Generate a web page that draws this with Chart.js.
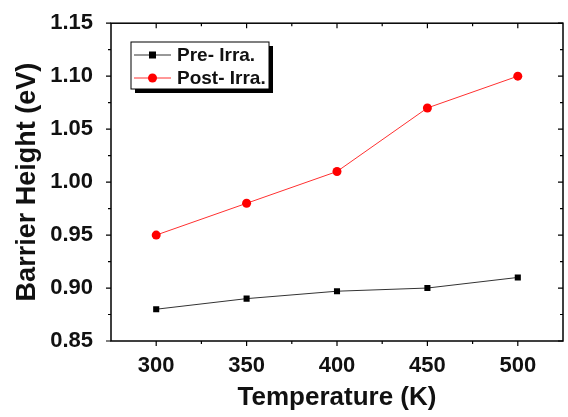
<!DOCTYPE html>
<html>
<head>
<meta charset="utf-8">
<script src="https://cdn.jsdelivr.net/npm/chart.js@4"></script>
<style>
  html, body { margin: 0; padding: 0; background: #fff; }
  #wrap { width: 568px; height: 417px; }
</style>
</head>
<body>
<div id="wrap"><canvas id="chart" width="568" height="417"></canvas></div>
<script>
const temperature = [300, 350, 400, 450, 500];
const preIrra = [0.88, 0.89, 0.897, 0.90, 0.91];
const postIrra = [0.95, 0.98, 1.01, 1.07, 1.10];
const xTicks = [300, 350, 400, 450, 500];
const yTicks = [0.85, 0.90, 0.95, 1.00, 1.05, 1.10, 1.15];

const FONT = 'Liberation Sans, Arial, sans-serif';

// frame + ticks on all four sides, like Origin
const framePlugin = {
    id: 'frame',
    afterDraw(chart) {
        const ctx = chart.ctx;
        const a = chart.chartArea;
        const xs = chart.scales.x, ys = chart.scales.y;
        ctx.save();
        ctx.strokeStyle = '#000';
        ctx.lineWidth = 1.5;
        ctx.strokeRect(a.left, a.top, a.right - a.left, a.bottom - a.top);
        ctx.lineWidth = 1.2;
        ctx.beginPath();
        for (let v = 275; v <= 525; v += 25) {
            const px = xs.getPixelForValue(v);
            if (px < a.left + 1 || px > a.right - 1) continue;
            const len = (v % 50 === 0) ? 5 : 3;
            ctx.moveTo(px, a.bottom); ctx.lineTo(px, a.bottom + len);
            ctx.moveTo(px, a.top); ctx.lineTo(px, a.top + len);
        }
        for (let i = 0; i <= 12; i++) {
            const v = 0.85 + i * 0.025;
            const py = ys.getPixelForValue(v);
            const len = (i % 2 === 0) ? 5 : 3;
            ctx.moveTo(a.left, py); ctx.lineTo(a.left - len, py);
            ctx.moveTo(a.right, py); ctx.lineTo(a.right - len, py);
        }
        ctx.stroke();
        ctx.restore();
    }
};

const legendPlugin = {
    id: 'boxLegend',
    afterDraw(chart) {
        const ctx = chart.ctx;
        const x = 131, y = 42, w = 138, h = 47;
        ctx.save();
        ctx.fillStyle = '#000';
        ctx.fillRect(x + 4, y + 4, w, h);
        ctx.fillStyle = '#fff';
        ctx.fillRect(x, y, w, h);
        ctx.strokeStyle = '#000';
        ctx.lineWidth = 1;
        ctx.strokeRect(x, y, w, h);
        ctx.font = 'bold 19px ' + FONT;
        ctx.textBaseline = 'middle';
        chart.data.datasets.forEach((ds, i) => {
            const ry = y + 13 + i * 23;
            ctx.strokeStyle = ds.borderColor;
            ctx.lineWidth = 1;
            ctx.beginPath();
            ctx.moveTo(x + 3, ry); ctx.lineTo(x + 40, ry);
            ctx.stroke();
            ctx.fillStyle = ds.pointBackgroundColor;
            if (ds.pointStyle === 'rect') {
                ctx.fillRect(x + 18, ry - 3.5, 7, 7);
            } else {
                ctx.beginPath();
                ctx.arc(x + 21.5, ry, 4.5, 0, Math.PI * 2);
                ctx.fill();
            }
            ctx.fillStyle = '#111';
            ctx.fillText(ds.label, x + 46, ry + 1);
        });
        ctx.restore();
    }
};

new Chart(document.getElementById('chart'), {
    type: 'line',
    data: {
        datasets: [{
            label: 'Pre- Irra.',
            data: temperature.map((t, i) => ({ x: t, y: preIrra[i] })),
            borderColor: '#333',
            borderWidth: 1,
            pointStyle: 'rect',
            pointRadius: 4.3,
            pointBackgroundColor: '#000',
            pointBorderColor: '#000',
            pointBorderWidth: 0
        }, {
            label: 'Post- Irra.',
            data: temperature.map((t, i) => ({ x: t, y: postIrra[i] })),
            borderColor: '#ff3030',
            borderWidth: 1,
            pointStyle: 'circle',
            pointRadius: 4.5,
            pointBackgroundColor: '#ff0000',
            pointBorderColor: '#ff0000',
            pointBorderWidth: 0
        }]
    },
    options: {
        responsive: false,
        animation: false,
        layout: { padding: { left: 0, right: 5, top: 21, bottom: 0 } },
        plugins: { legend: { display: false }, tooltip: { enabled: false } },
        scales: {
            x: {
                type: 'linear',
                min: 275, max: 525,
                afterBuildTicks: (s) => { s.ticks = xTicks.map(v => ({ value: v })); },
                afterFit: (s) => { s.height = 76; },
                grid: { display: false },
                border: { display: false },
                ticks: {
                    padding: 4,
                    color: '#111',
                    font: { family: FONT, size: 22, weight: 'bold' }
                },
                title: {
                    display: true,
                    text: 'Temperature (K)',
                    color: '#111',
                    padding: { top: 0, bottom: 4 },
                    font: { family: FONT, size: 26, weight: 'bold' }
                }
            },
            y: {
                min: 0.85, max: 1.15,
                afterBuildTicks: (s) => { s.ticks = yTicks.map(v => ({ value: v })); },
                afterFit: (s) => { s.width = 111; },
                grid: { display: false },
                border: { display: false },
                ticks: {
                    padding: 10,
                    color: '#111',
                    callback: (v) => v.toFixed(2),
                    font: { family: FONT, size: 22, weight: 'bold' }
                },
                title: {
                    display: true,
                    text: 'Barrier Height (eV)',
                    color: '#111',
                    padding: { top: 11, bottom: 0 },
                    font: { family: FONT, size: 27, weight: 'bold' }
                }
            }
        }
    },
    plugins: [framePlugin, legendPlugin]
});
</script>
</body>
</html>
